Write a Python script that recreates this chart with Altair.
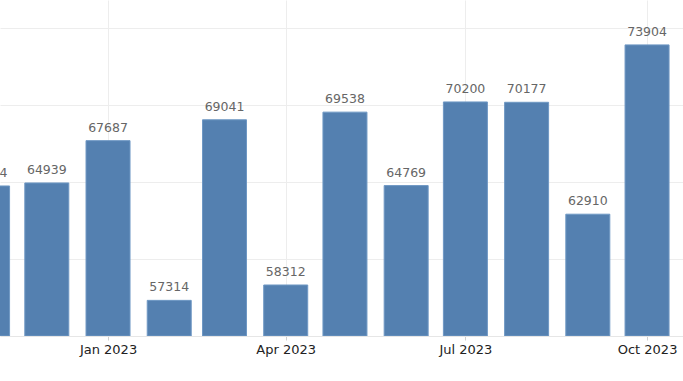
import altair as alt
import pandas as pd

months = ["2022-11-01", "2022-12-01", "2023-01-01", "2023-02-01", "2023-03-01", "2023-04-01",
          "2023-05-01", "2023-06-01", "2023-07-01", "2023-08-01", "2023-09-01", "2023-10-01"]
values = [64744, 64939, 67687, 57314, 69041, 58312, 69538, 64769, 70200, 70177, 62910, 73904]
tick_months = [1, 4, 7, 10]
grid_values = [55000, 60000, 65000, 70000, 75000]

df = pd.DataFrame({"date": months, "value": values})

xscale = alt.Scale(
    type="utc",
    nice=False,
    padding=0,
    domain=[alt.DateTime(year=2022, month=11, date=7, hours=7, utc=True),
            alt.DateTime(year=2023, month=10, date=19, hours=5, utc=True)],
)
yscale = alt.Scale(domain=[55000, 76820], nice=False, zero=False, padding=0)

x = alt.X(
    "date:T",
    scale=xscale,
    axis=alt.Axis(
        values=[alt.DateTime(year=2023, month=m, date=1, utc=True) for m in tick_months],
        labelExpr="utcFormat(datum.value, '%b %Y')",
        title=None,
        grid=True,
        gridColor="#ededed",
        domainColor="#e6e6e6",
        tickColor="#d0d0d0",
        tickSize=4,
        labelPadding=3,
        labelFontSize=13,
        labelColor="#222222",
        labelFont="DejaVu Sans",
    ),
)
y = alt.Y(
    "value:Q",
    scale=yscale,
    axis=alt.Axis(values=grid_values, labels=False, ticks=False, domain=False,
                  title=None, grid=True, gridColor="#ededed"),
)

bars = alt.Chart(df).mark_bar(size=44, clip=True, color="#5480b0",
                              stroke="#6f98c4", strokeWidth=1).encode(
    x=x, y=y, y2=alt.datum(55000)
)
labels = alt.Chart(df).mark_text(clip=True, baseline="bottom", dy=-6, fontSize=12.5,
                                 color="#666666", font="DejaVu Sans").encode(
    x=alt.X("date:T", scale=xscale),
    y=alt.Y("value:Q", scale=yscale),
    text=alt.Text("value:Q", format="d"),
)

chart = alt.layer(bars, labels).properties(
    width=683, height=336, autosize=alt.AutoSizeParams(type="none"),
    padding={"left": 0, "top": 0, "right": 0, "bottom": 45},
    background="white",
).configure_view(stroke=None)

chart.save("out.html", embed_options={"renderer": "svg", "actions": False})
